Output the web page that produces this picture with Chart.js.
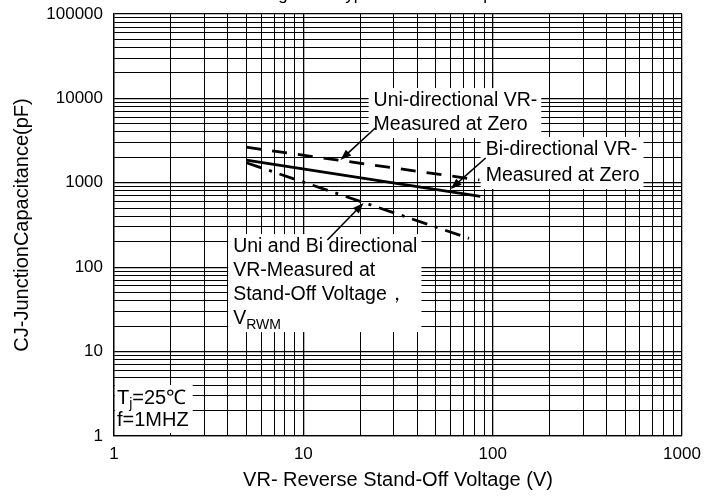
<!DOCTYPE html>
<html>
<head>
<meta charset="utf-8">
<script src="https://cdn.jsdelivr.net/npm/chart.js@4.4.1/dist/chart.umd.min.js"></script>
<style>
  html, body { margin: 0; padding: 0; background: #fff; }
</style>
</head>
<body>
<canvas id="chart" width="718" height="500"></canvas>
<script>
// values: voltage (V) vs junction capacitance (pF)
const uniZeroVoltage = [5, 85];
const uniZeroCap = [2640, 1080];
const biZeroVoltage = [5, 86];
const biZeroCap = [1860, 690];
const standOffVoltage = [5, 75];
const standOffCap = [1730, 220];

const xTickValues = [1, 10, 100, 1000];
const yTickValues = [1, 10, 100, 1000, 10000, 100000];

const FONT = '"Liberation Sans", Arial, sans-serif';
Chart.defaults.font.family = FONT;
Chart.defaults.color = '#000';

// text callouts, placed in data units; "_{..}" marks a subscript
const notes = [
  { lines: ['Uni-directional VR-', 'Measured at Zero'], at: [23.5, 9300], gap: 24,
    arrow: [[24.0, 4460], [15.7, 1862]] },
  { lines: ['Bi-directional VR-', 'Measured at Zero'], at: [91.8, 2450], gap: 26,
    arrow: [[91.8, 1968], [60, 845]] },
  { lines: ['Uni and Bi directional', 'VR-Measured at', 'Stand-Off Voltage\uFF0C', 'V_{RWM}'], at: [4.26, 173], gap: 24,
    arrow: [[13.4, 210], [20.8, 577]] },
  { lines: ['T_{j}=25\u2103', 'f=1MHZ'], at: [1.037, 2.82], gap: 22, size: 20 },
];

function pairs(xs, ys) {
  return xs.map((x, i) => ({ x: x, y: ys[i] }));
}

function decadeTicks(values) {
  const out = [];
  for (let i = 0; i < values.length; i++) {
    out.push({ value: values[i] });
    if (i < values.length - 1) {
      for (let m = 2; m <= 9; m++) out.push({ value: values[i] * m });
    }
  }
  return out;
}

function richText(ctx, str, x, y, size, draw) {
  const parts = str.split(/_\{([^}]*)\}/);
  let cx = x;
  parts.forEach((p, i) => {
    if (!p) return;
    const sub = i % 2 === 1;
    ctx.font = (sub ? Math.round(size * 0.72) : size) + 'px ' + FONT;
    if (draw) ctx.fillText(p, cx, sub ? y + size * 0.32 : y);
    cx += ctx.measureText(p).width;
  });
  return cx - x;
}

function arrow(ctx, x0, y0, x1, y1) {
  const a = Math.atan2(y1 - y0, x1 - x0);
  const len = 11, half = 4;
  ctx.beginPath();
  ctx.moveTo(x0, y0);
  ctx.lineTo(x1 - Math.cos(a) * len * 0.8, y1 - Math.sin(a) * len * 0.8);
  ctx.lineWidth = 1.6;
  ctx.strokeStyle = '#000';
  ctx.stroke();
  ctx.beginPath();
  ctx.moveTo(x1, y1);
  ctx.lineTo(x1 - Math.cos(a) * len - Math.sin(a) * half, y1 - Math.sin(a) * len + Math.cos(a) * half);
  ctx.lineTo(x1 - Math.cos(a) * len + Math.sin(a) * half, y1 - Math.sin(a) * len - Math.cos(a) * half);
  ctx.closePath();
  ctx.fillStyle = '#000';
  ctx.fill();
}

const calloutPlugin = {
  id: 'callouts',
  afterDatasetsDraw(chart) {
    const ctx = chart.ctx;
    const xs = chart.scales.x, ys = chart.scales.y;
    ctx.save();
    ctx.textBaseline = 'middle';
    ctx.textAlign = 'left';
    notes.forEach(n => {
      const size = n.size || 19.5;
      const x = xs.getPixelForValue(n.at[0]);
      const y0 = ys.getPixelForValue(n.at[1]);
      const widths = n.lines.map(l => richText(ctx, l, x, 0, size, false));
      const w = Math.max.apply(null, widths);
      ctx.fillStyle = '#fff';
      const left = Math.max(x - 5, chart.chartArea.left + 1);
      ctx.fillRect(left, y0 - 13, x + w + 4 - left, n.gap * (n.lines.length - 1) + 26);
      ctx.fillStyle = '#000';
      n.lines.forEach((l, i) => richText(ctx, l, x, y0 + i * n.gap, size, true));
      if (n.arrow) {
        const t = n.arrow[0], h = n.arrow[1];
        arrow(ctx, xs.getPixelForValue(t[0]), ys.getPixelForValue(t[1]),
          xs.getPixelForValue(h[0]), ys.getPixelForValue(h[1]));
      }
    });
    // figure caption, mostly cut off by the top edge
    ctx.font = '17px ' + FONT;
    ctx.textAlign = 'center';
    ctx.textBaseline = 'alphabetic';
    ctx.fillText('Figure 3. Typical Junction Capacitance', 410, 0);
    ctx.restore();
  }
};

const gridWidth = values => c => (c.tick && values.includes(c.tick.value) ? 1.3 : 1);

new Chart(document.getElementById('chart'), {
  type: 'scatter',
  data: {
    datasets: [
      { label: 'Uni-directional VR- Measured at Zero', data: pairs(uniZeroVoltage, uniZeroCap),
        showLine: true, borderColor: '#000', borderWidth: 2.8, borderDash: [15, 11], pointRadius: 0 },
      { label: 'Bi-directional VR- Measured at Zero', data: pairs(biZeroVoltage, biZeroCap),
        showLine: true, borderColor: '#000', borderWidth: 2.8, pointRadius: 0 },
      { label: 'Uni and Bi directional VR-Measured at Stand-Off Voltage', data: pairs(standOffVoltage, standOffCap),
        showLine: true, borderColor: '#000', borderWidth: 2.8, borderDash: [16, 8, 3, 8], pointRadius: 0 },
    ]
  },
  options: {
    responsive: false,
    animation: false,
    layout: { padding: { top: 14, right: 36, left: 0, bottom: 0 } },
    plugins: { legend: { display: false }, tooltip: { enabled: false } },
    scales: {
      x: {
        type: 'logarithmic', min: 1, max: 1000,
        afterBuildTicks: s => { s.ticks = decadeTicks(xTickValues); },
        afterFit: s => { s.height = 64; s.paddingLeft = 0; s.paddingRight = 0; },
        ticks: { autoSkip: false, maxRotation: 0, padding: 8, font: { size: 17 }, color: '#000',
          callback: v => (xTickValues.includes(v) ? String(v) : '') },
        grid: { color: '#000', drawTicks: false, lineWidth: gridWidth(xTickValues) },
        border: { color: '#000', width: 1.3 },
        title: { display: true, text: 'VR- Reverse Stand-Off Voltage (V)', font: { size: 20 }, color: '#000',
          padding: { top: 0, bottom: 8 } }
      },
      y: {
        type: 'logarithmic', min: 1, max: 100000,
        afterBuildTicks: s => { s.ticks = decadeTicks(yTickValues); },
        afterFit: s => { s.width = 114; s.paddingTop = 0; s.paddingBottom = 0; },
        ticks: { autoSkip: false, padding: 11, font: { size: 17 }, color: '#000',
          callback: v => (yTickValues.includes(v) ? String(v) : '') },
        grid: { color: '#000', drawTicks: false, lineWidth: gridWidth(yTickValues) },
        border: { color: '#000', width: 1.3 },
        title: { display: true, text: 'CJ-JunctionCapacitance(pF)', font: { size: 20 }, color: '#000',
          padding: { top: 10, bottom: 0 } }
      }
    }
  },
  plugins: [calloutPlugin]
});
</script>
</body>
</html>
